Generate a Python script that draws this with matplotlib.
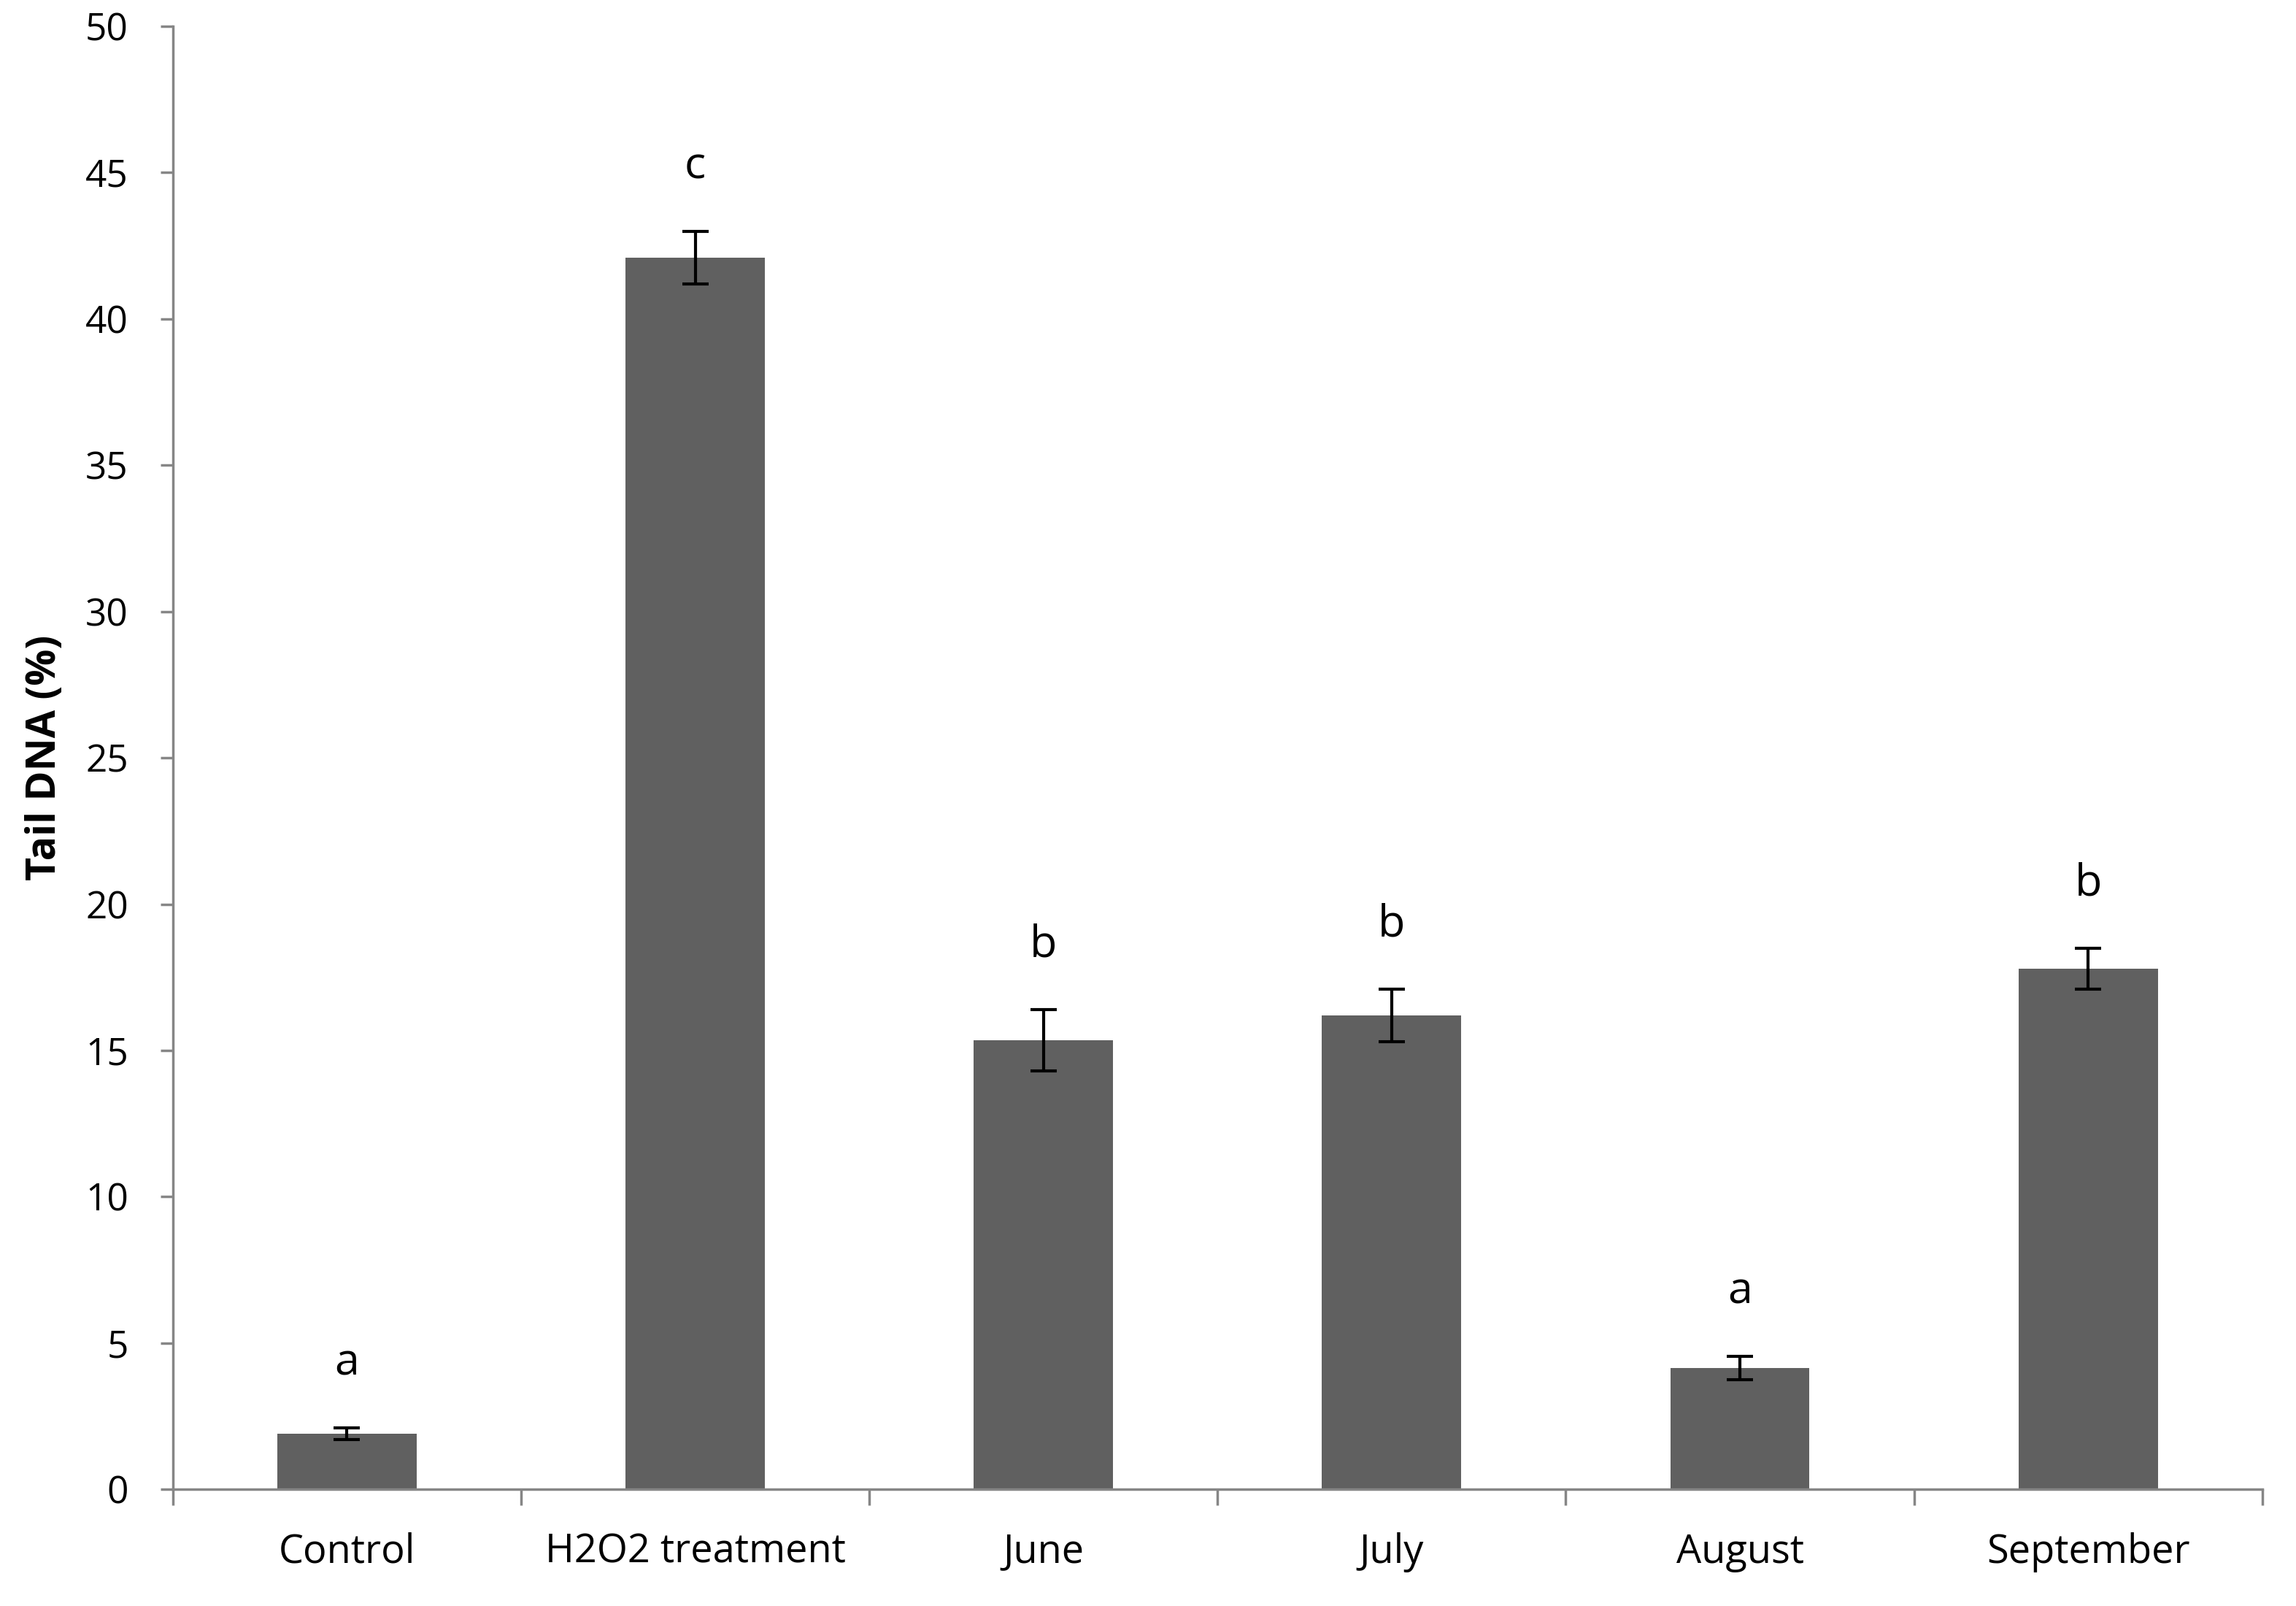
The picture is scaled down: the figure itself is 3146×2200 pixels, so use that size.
'''Tail DNA bar chart.'''
import matplotlib as mpl
mpl.use('Agg')
import matplotlib.pyplot as plt
import numpy as np

groups = ['Control', 'H2O2 treatment', 'June', 'July', 'August', 'September']
tail_dna = [1.9, 42.1, 15.35, 16.2, 4.15, 17.8]
errors = [0.2, 0.9, 1.05, 0.9, 0.4, 0.7]
letters = ['a', 'c', 'b', 'b', 'a', 'b']

plt.rcParams['font.family'] = ['Open Sans', 'DejaVu Sans']

fig = plt.figure(figsize=(31.46, 22), dpi=100)
ax = fig.add_axes([0.0753, 0.0726, 0.91, 0.911])

x = np.arange(len(groups))
ax.bar(x, tail_dna, width=0.4, color='#606060', zorder=2)
ax.errorbar(x, tail_dna, yerr=errors, fmt='none', ecolor='black',
            elinewidth=3, capsize=13, capthick=3, zorder=3)

for xi, v, e, lab in zip(x, tail_dna, errors, letters):
    ax.text(xi, v + e + 2.2, lab, ha='center', va='center', fontsize=44)

ax.set_xlim(-0.5, len(groups) - 0.5)
ax.set_ylim(0, 50)
ax.set_yticks(np.arange(0, 51, 5))

# categories labelled at centres, ticks drawn at the boundaries
ax.set_xticks(x)
ax.set_xticklabels(groups, fontsize=39)
ax.tick_params(axis='x', which='major', length=0, pad=42)
ax.set_xticks(np.arange(-0.5, len(groups)), minor=True)
ax.tick_params(axis='x', which='minor', length=16, width=2.5, color='#868686')
ax.tick_params(axis='y', labelsize=37, length=12, width=2.5, color='#868686', pad=32)

for s in ['top', 'right']:
    ax.spines[s].set_visible(False)
for s in ['left', 'bottom']:
    ax.spines[s].set_color('#868686')
    ax.spines[s].set_linewidth(2.5)

ax.set_ylabel('Tail DNA (%)', fontsize=40, fontweight='bold', labelpad=20)

fig.savefig('out.png', dpi=100)
